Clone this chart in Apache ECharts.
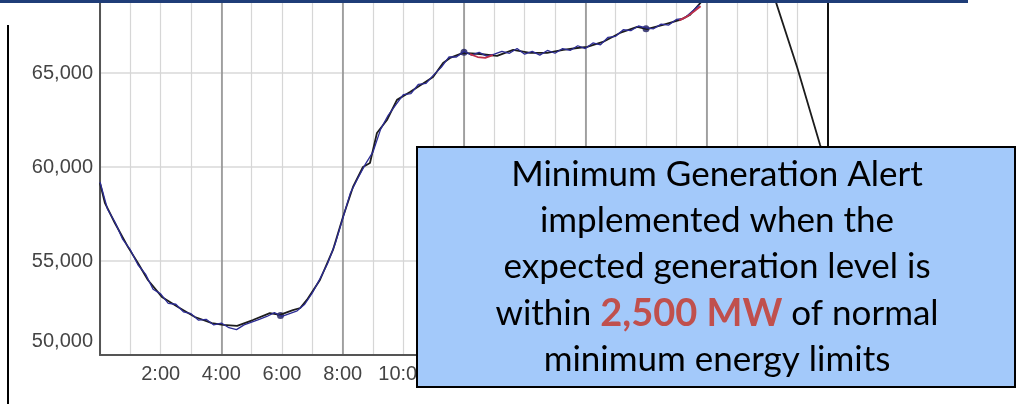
<!DOCTYPE html>
<html>
<head>
<meta charset="utf-8">
<script src="https://cdn.jsdelivr.net/npm/echarts@6/dist/echarts.min.js"></script>
<style>
  html, body { margin: 0; padding: 0; background: #fff; }
  #loadChart { width: 1017px; height: 404px; }
</style>
</head>
<body>
<div id="loadChart"></div>
<script>
// hours of the day (x) and load in MW (y)
const forecastTimes = [0, 0.16, 0.49, 0.92, 1.25, 1.58, 2.04, 2.57, 3.13, 3.69, 4.06, 4.52, 5.04, 5.6, 5.93,
  6.36, 6.6, 6.82, 7.25, 7.68, 8.01, 8.34, 8.67, 8.9, 9.13, 9.46, 9.79, 10.22, 10.98, 11.31, 11.54, 11.97,
  12.53, 13.09, 13.62, 14.18, 14.74, 15.27, 15.73, 16.06, 16.58, 17.14, 17.71, 18.03, 18.56, 19.12, 19.45,
  19.88, 20.5, 21, 21.5, 22, 22.26, 22.98, 23.74, 24]
const forecastMW = [59150, 58090, 57020, 55750, 54890, 53990, 53090, 52550, 52020, 51700, 51600, 51550, 51860, 52230, 52130,
  52390, 52500, 52930, 53990, 55590, 57340, 58940, 60000, 60210, 61810, 62500, 63570, 63990, 64790, 65530, 65800, 66070,
  66010, 65910, 66230, 66070, 66070, 66230, 66330, 66390, 66650, 67130, 67450, 67340, 67560, 67820, 68090,
  68890, 70000, 70700, 70600, 70000, 68890, 65320, 61170, 59840]

const actualTimes = [
  0, 0.25, 0.5, 0.75, 1, 1.25, 1.5, 1.75, 2, 2.25, 2.5, 2.75, 3, 3.25, 3.5, 3.75,
  4, 4.25, 4.5, 4.75, 5, 5.25, 5.5, 5.75, 6, 6.25, 6.5, 6.75, 7, 7.25, 7.5, 7.75,
  8, 8.25, 8.5, 8.75, 9, 9.25, 9.5, 9.75, 10, 10.25, 10.5, 10.75, 11, 11.25, 11.5, 11.75,
  12, 12.25, 12.5, 12.75, 13, 13.25, 13.5, 13.75, 14, 14.25, 14.5, 14.75, 15, 15.25, 15.5, 15.75,
  16, 16.25, 16.5, 16.75, 17, 17.25, 17.5, 17.75, 18, 18.25, 18.5, 18.75, 19, 19.25, 19.5, 19.75]
const actualMW = [
  59200, 57750, 57050, 56150, 55600, 54800, 54300, 53500, 53250, 52750, 52700, 52300, 52200, 51850, 51900, 51600,
  51700, 51450, 51350, 51600, 51750, 51900, 52050, 52250, 52050, 52200, 52350, 52700, 53300, 54050, 54850, 55900,
  57250, 58600, 59400, 60150, 60800, 62000, 62750, 63300, 63850, 63900, 64400, 64450, 64900, 65300, 65850, 65850,
  66150, 65950, 66100, 65900, 66000, 66150, 66050, 66300, 66000, 66150, 65950, 66200, 66050, 66300, 66200, 66450,
  66300, 66600, 66500, 66900, 66950, 67300, 67250, 67500, 67400, 67350, 67600, 67550, 67850, 67900, 68250, 68600]

// short red stretches on the trace
const alertTimes = [12.2, 12.45, 12.7, 12.95, 16, 19.1, 19.35, 19.6, 19.8]
const alertMW = [66000, 65850, 65800, 65950, '-', 67800, 68000, 68300, 68550]

// dark blobs on the trace
const dotTimes = [5.95, 12.0, 18.0]
const dotMW = [52100, 66100, 67350]

const yTicks = [50000, 55000, 60000, 65000, 70000]

const pairs = (xs, ys) => xs.map((x, i) => [x, ys[i]])
const fmtMW = v => v.toLocaleString('en-US')

const chart = echarts.init(document.getElementById('loadChart'))
const boxFont = { fontSize: 35, fontFamily: 'Lato', fill: '#000', align: 'center', verticalAlign: 'middle' }
const option = {
  backgroundColor: '#ffffff',
  animation: false,
  grid: { left: 100, right: 189, top: -21, bottom: 49, outerBoundsMode: 'none' },
  xAxis: [
    {
      type: 'value', min: 0, max: 24, interval: 1,
      axisLine: { show: true, lineStyle: { color: '#555', width: 2 } },
      axisTick: { show: false },
      axisLabel: {
        margin: 9, color: '#444', fontSize: 20, fontFamily: 'Liberation Sans',
        formatter: v => (v > 0 && v < 24 && v % 2 === 0) ? v + ':00' : ''
      },
      splitLine: { show: true, showMaxLine: false, lineStyle: { color: '#d6d6d6', width: 1.2 } }
    },
    {
      // heavier line every 4 hours
      type: 'value', min: 0, max: 24, interval: 4, position: 'top',
      axisLine: { show: false }, axisTick: { show: false }, axisLabel: { show: false },
      splitLine: { show: true, showMaxLine: false, lineStyle: { color: '#8c8c8c', width: 1.5 } }
    }
  ],
  yAxis: [
    {
      type: 'value', min: yTicks[0], max: yTicks[yTicks.length - 1], interval: 5000,
      axisLine: { show: true, onZero: false, lineStyle: { color: '#555', width: 2 } },
      axisTick: { show: false },
      axisLabel: {
        margin: 7, color: '#444', fontSize: 20, fontFamily: 'Liberation Sans',
        formatter: v => v === yTicks[0] ? '{lo|' + fmtMW(v) + '}' : fmtMW(v),
        rich: { lo: { padding: [0, 0, 28, 0], fontSize: 20, color: '#444', fontFamily: 'Liberation Sans' } }
      },
      splitLine: { show: true, lineStyle: { color: '#d8d8d8', width: 1.5 } }
    },
    {
      // right frame of the plot
      type: 'value', min: yTicks[0], max: yTicks[yTicks.length - 1], position: 'right',
      axisLine: { show: true, onZero: false, lineStyle: { color: '#111', width: 2 } },
      axisTick: { show: false }, axisLabel: { show: false }, splitLine: { show: false }
    }
  ],
  series: [
    {
      name: 'forecast', type: 'line', showSymbol: false,
      lineStyle: { color: '#1c1c1c', width: 1.8 },
      data: pairs(forecastTimes, forecastMW)
    },
    {
      name: 'actual', type: 'line', showSymbol: false,
      lineStyle: { color: '#2c2c94', width: 1.3 },
      data: pairs(actualTimes, actualMW)
    },
    {
      name: 'alert', type: 'line', showSymbol: false,
      lineStyle: { color: '#c0304a', width: 1.8 },
      data: pairs(alertTimes, alertMW)
    },
    {
      name: 'dots', type: 'scatter', symbolSize: 7,
      itemStyle: { color: '#1b1b5e' },
      data: pairs(dotTimes, dotMW)
    }
  ],
  graphic: [
    // slide title rule and left rule
    { type: 'rect', shape: { x: 0, y: 0, width: 968, height: 3 }, style: { fill: '#1f3d78' }, z: 100 },
    { type: 'rect', shape: { x: 7, y: 25, width: 2, height: 379 }, style: { fill: '#000' }, z: 100 },
    // call-out box
    {
      type: 'rect', shape: { x: 417, y: 147, width: 598, height: 240 },
      style: { fill: '#a3c9fa', stroke: '#000', lineWidth: 2 }, z: 100
    },
    { type: 'text', x: 717, y: 175, z: 101, style: Object.assign({ text: 'Minimum Generation Alert' }, boxFont) },
    { type: 'text', x: 717, y: 221, z: 101, style: Object.assign({ text: 'implemented when the' }, boxFont) },
    { type: 'text', x: 717, y: 267, z: 101, style: Object.assign({ text: 'expected generation level is' }, boxFont) },
    {
      type: 'text', x: 717, y: 314, z: 101,
      style: {
        text: '{n|within }{r|2,500 MW}{n| of normal}', align: 'center', verticalAlign: 'middle',
        rich: {
          n: { fontSize: 35, fontFamily: 'Lato', fill: '#000' },
          r: { fontSize: 38, fontFamily: 'Lato', fontWeight: 'bold', fill: '#c0504d' }
        }
      }
    },
    { type: 'text', x: 717, y: 360, z: 101, style: Object.assign({ text: 'minimum energy limits' }, boxFont) }
  ]
}

chart.setOption(option)
window.onresize = () => { chart.resize() }
</script>
</body>
</html>
